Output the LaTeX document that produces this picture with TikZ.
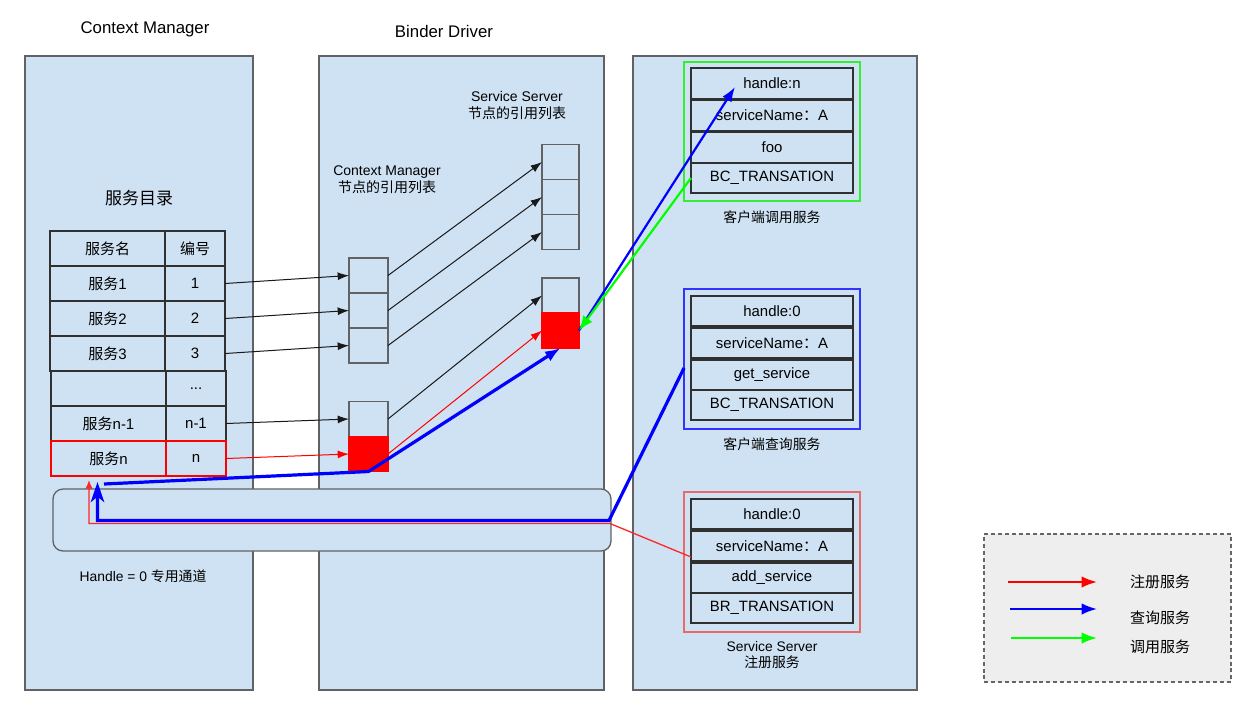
\documentclass[tikz,border=0pt]{standalone}
\usepackage{fontspec}
\setmainfont{Liberation Sans}
\newfontfamily\cjk{Noto Sans CJK SC}
\usetikzlibrary{arrows.meta}
\newlength\px \setlength\px{0.75pt}
\definecolor{panelfill}{HTML}{CFE2F3}
\definecolor{panelline}{HTML}{606266}
\definecolor{cellline}{HTML}{303030}
\definecolor{regred}{HTML}{EA6B66}
\definecolor{callgreen}{HTML}{33EE33}
\definecolor{qblue}{HTML}{3333FF}
\definecolor{legfill}{HTML}{EEEEEE}
\definecolor{legline}{HTML}{666666}
\definecolor{pureblue}{HTML}{0000FF}
\definecolor{puregreen}{HTML}{00FF00}
\begin{document}
\begin{tikzpicture}[x=0.75pt,y=-0.75pt,
  panel/.style={draw=panelline, fill=panelfill, line width=1.3\px, inner sep=0pt, outer sep=0pt},
  title/.style={font=\fontsize{12.6}{15}\selectfont, inner sep=0pt},
  tcell/.style={draw=cellline, fill=panelfill, line width=1.2\px, inner sep=0pt, outer sep=0pt,
    minimum height=35\px, font=\fontsize{11.25}{13}\selectfont},
  wA/.style={minimum width=115\px},
  wB/.style={minimum width=60\px},
  rcell/.style={draw=panelline, fill=panelfill, line width=1.2\px, inner sep=0pt, outer sep=0pt,
    minimum height=35\px},
  redcell/.style={rcell, fill=red, draw=red},
  lab/.style={align=center, font=\fontsize{10.5}{12.5}\selectfont, inner sep=0pt},
  scell/.style={draw=cellline, fill=panelfill, line width=1.3\px, inner sep=0pt, outer sep=0pt,
    minimum width=162\px, minimum height=30\px, font=\fontsize{11.2}{13}\selectfont},
  frame/.style={fill=panelfill, line width=1.3\px, inner sep=0pt, outer sep=0pt,
    minimum width=176\px, minimum height=140\px},
  zhlab/.style={font=\fontsize{10.4}{12}\selectfont, inner sep=0pt, align=center},
  leglab/.style={font=\fontsize{11.25}{13}\selectfont, inner sep=0pt},
  blk/.style={draw=black!90, line width=1\px, -{Latex[length=8.5pt,width=6pt]}},
  redarr/.style={draw=red, line width=1\px, -{Latex[length=8.5pt,width=6pt]}},
  regpath/.style={draw=red!85!white, line width=1.3\px, -{Latex[length=6.5pt,width=5.5pt]}},
  bluethick/.style={draw=pureblue, line width=3.2\px},
  bluemid/.style={draw=pureblue, line width=2.2\px, -{Latex[length=11pt,width=8pt]}},
  greenl/.style={draw=puregreen, line width=2.2\px, -{Latex[length=11pt,width=8.5pt]}},
  legarr/.style={line width=2\px, -{Latex[length=11.5pt,width=8.5pt]}}
]
\useasboundingbox[fill=white] (0,0) rectangle (1252,708);

% panels
\node[panel, minimum width=228\px, minimum height=634\px] (pCM) at (139,373) {};
\node[panel, minimum width=285\px, minimum height=634\px] (pBD) at (461.5,373) {};
\node[panel, minimum width=284\px, minimum height=634\px] (pSS) at (775,373) {};
\node[title] (tCM) at (145,29) {Context Manager};
\node[title] (tBD) at (444,31) {Binder Driver};

% channel
\node[panel, rounded corners=7.5pt, minimum width=558\px, minimum height=62\px] (chan) at (332,520) {};
\node[zhlab] (chanLab) at (143,576) {Handle = 0 {\cjk 专用通道}};

% service directory
\node[font=\fontsize{12.75}{15}\selectfont, inner sep=0pt] (dir) at (139,198) {\cjk 服务目录};
\node[tcell, wA] (h1) at (107.5,248.5) {\cjk 服务名};
\node[tcell, wB] (h2) at (195,248.5) {\cjk 编号};
\node[tcell, wA] (r1a) at (107.5,283.5) {{\cjk 服务}1};
\node[tcell, wB] (r1b) at (195,283.5) {1};
\node[tcell, wA] (r2a) at (107.5,318.5) {{\cjk 服务}2};
\node[tcell, wB] (r2b) at (195,318.5) {2};
\node[tcell, wA] (r3a) at (107.5,353.5) {{\cjk 服务}3};
\node[tcell, wB] (r3b) at (195,353.5) {3};
\node[tcell, wA] (r4a) at (108.5,388.5) {};
\node[tcell, wB] (r4b) at (196,388.5) {...};
\node[tcell, wA] (r5a) at (108.5,423.5) {{\cjk 服务}n-1};
\node[tcell, wB] (r5b) at (196,423.5) {n-1};
\node[tcell, wA, draw=red] (r6a) at (108.5,458.5) {{\cjk 服务}n};
\node[tcell, wB, draw=red] (r6b) at (196,458.5) {n};

% binder driver reference lists
\node[lab] (labA) at (387,180) {Context Manager\\{\cjk 节点的引用列表}};
\node[lab] (labC) at (517,105.5) {Service Server\\{\cjk 节点的引用列表}};
\node[rcell, minimum width=39\px] (A1) at (368.5,275.5) {};
\node[rcell, minimum width=39\px] (A2) at (368.5,310.5) {};
\node[rcell, minimum width=39\px] (A3) at (368.5,345.5) {};
\node[rcell, minimum width=39\px] (B1) at (368.5,419) {};
\node[redcell, minimum width=39\px] (Bn) at (368.5,454) {};
\node[rcell, minimum width=37\px] (C1) at (560.5,162) {};
\node[rcell, minimum width=37\px] (C2) at (560.5,197) {};
\node[rcell, minimum width=37\px] (C3) at (560.5,232) {};
\node[rcell, minimum width=37\px] (D1) at (560.5,295.5) {};
\node[redcell, minimum width=37\px] (Dn) at (560.5,330.5) {};

% client call box
\node[frame, draw=callgreen, minimum height=139\px] (callbox) at (772,131.5) {};
\node[scell, minimum height=31\px] (cH) at (772,83.5) {handle:n};
\node[scell, minimum height=31\px] (cS) at (772,115.5) {serviceName{\cjk ：}A};
\node[scell, minimum height=31\px] (cF) at (772,147.5) {foo};
\node[scell] (cBC) at (772,178) {BC\_TRANSATION};
\node[zhlab] (callLab) at (772,217) {\cjk 客户端调用服务};

% client query box
\node[frame, draw=qblue] (qbox) at (772,359) {};
\node[scell] (qH) at (772,311) {handle:0};
\node[scell] (qS) at (772,343) {serviceName{\cjk ：}A};
\node[scell] (qG) at (772,375) {get\_service};
\node[scell] (qBC) at (772,405) {BC\_TRANSATION};
\node[zhlab] (qLab) at (772,444) {\cjk 客户端查询服务};

% service server register box
\node[frame, draw=regred] (rbox) at (772,562) {};
\node[scell] (rH) at (772,514) {handle:0};
\node[scell] (rS) at (772,546) {serviceName{\cjk ：}A};
\node[scell] (rA) at (772,578) {add\_service};
\node[scell] (rBR) at (772,608) {BR\_TRANSATION};
\node[zhlab] (rLab) at (772,655) {Service Server\\{\cjk 注册服务}};

% black reference arrows
\draw[blk] (r1b.east) -- (A1.west);
\draw[blk] (r2b.east) -- (A2.west);
\draw[blk] (r3b.east) -- (A3.west);
\draw[blk] (r5b.east) -- (B1.west);
\draw[blk] (A1.east) -- (C1.west);
\draw[blk] (A2.east) -- (C2.west);
\draw[blk] (A3.east) -- (C3.west);
\draw[blk] (B1.east) -- (D1.west);
\draw[redarr] (r6b.east) -- (Bn.west);
\draw[redarr] (Bn.east) -- (Dn.west);

% register path (red)
\coordinate (regIn) at (691,557);
\coordinate (regK1) at (610,523.5);
\coordinate (regK2) at (89,523.5);
\coordinate (regTip) at (89,480);
\draw[regpath] (regIn) -- (regK1) -- (regK2) -- (regTip);

% query path (blue)
\coordinate (qIn) at (684,368);
\coordinate (qK1) at (609,520.5);
\coordinate (qK2) at (97.5,520.5);
\coordinate (qTip) at (97.5,482);
\draw[bluethick, -{Stealth[length=15pt,width=10pt,inset=4pt]}] (qIn) -- (qK1) -- (qK2) -- (qTip);
\coordinate (q2s) at (104,484);
\draw[bluethick, -{Latex[length=11.5pt,width=8.5pt]}] (q2s) -- (Bn.south) -- (Dn.south);
\coordinate (callTip) at (735,87);
\draw[bluemid] (Dn.east) -- (callTip);

% call path (green)
\draw[greenl] (cBC.west) -- (Dn.east);

% legend
\node[draw=legline, dashed, dash pattern=on 3pt off 2.2pt, fill=legfill, line width=1.3\px,
  minimum width=247\px, minimum height=148\px, inner sep=0pt] (legend) at (1107.5,608) {};
\coordinate (lr1) at (1008,582);
\coordinate (lr2) at (1097,582);
\coordinate (lb1) at (1010,609);
\coordinate (lb2) at (1097,609);
\coordinate (lg1) at (1011,638);
\coordinate (lg2) at (1097,638);
\draw[legarr, draw=red] (lr1) -- (lr2);
\draw[legarr, draw=pureblue] (lb1) -- (lb2);
\draw[legarr, draw=puregreen] (lg1) -- (lg2);
\node[leglab] (legR) at (1160,582) {\cjk 注册服务};
\node[leglab] (legB) at (1160,618) {\cjk 查询服务};
\node[leglab] (legG) at (1160,647) {\cjk 调用服务};
\end{tikzpicture}
\end{document}
